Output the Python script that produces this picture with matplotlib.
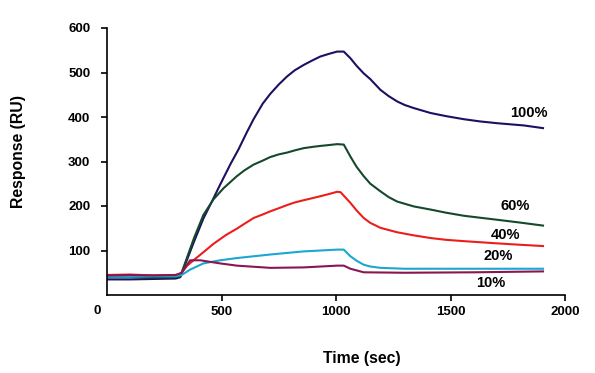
import matplotlib
matplotlib.use("Agg")
import matplotlib.pyplot as plt

plt.rcParams['font.family'] = ['Liberation Sans', 'DejaVu Sans']
plt.rcParams['font.weight'] = 'bold'

# sensorgram traces: time (sec) and response (RU)
t_100 = [0, 100, 200, 300, 320, 341, 380, 421, 460, 494, 540, 575, 610, 640, 680, 713,
         750, 786, 820, 859, 900, 932, 970, 1005, 1034,
         1063, 1090, 1121, 1150, 1194, 1230, 1267, 1300, 1340, 1413, 1480, 1559, 1630,
         1705, 1821, 1904]
r_100 = [35, 35, 36, 37, 40, 68, 120, 172, 212, 248, 295, 328, 365, 395, 430, 452,
         473, 491, 505, 517, 528, 536, 542, 547, 547,
         532, 515, 498, 485, 461, 447, 435, 427, 420, 409, 402, 395, 390,
         386, 381, 375]

t_60 = [0, 100, 200, 300, 320, 341, 380, 421, 465, 509, 567, 600, 640, 680, 713, 750,
        786, 820, 859, 900, 932, 970, 1005, 1034,
        1063, 1090, 1121, 1150, 1194, 1230, 1267, 1340, 1413, 1480, 1559, 1705, 1800, 1904]
r_60 = [40, 40, 39, 40, 42, 72, 128, 180, 215, 240, 267, 280, 293, 302, 310, 316,
        320, 325, 330, 333, 335, 337, 339, 338,
        311, 288, 267, 250, 233, 220, 210, 199, 192, 185, 178, 169, 163, 156]

t_40 = [0, 100, 200, 300, 320, 350, 392, 430, 465, 520, 567, 600, 640, 680, 713, 750, 786,
        820, 859, 900, 932, 970, 1005, 1020,
        1063, 1090, 1121, 1150, 1194, 1230, 1267, 1340, 1413, 1480, 1559, 1705, 1800, 1904]
r_40 = [45, 46, 44, 45, 46, 66, 84, 100, 115, 135, 149, 160, 173, 181, 188, 195, 202,
        208, 213, 218, 222, 227, 232, 231,
        207, 190, 173, 162, 151, 146, 141, 134, 128, 124, 121, 116, 113, 110]

t_20 = [0, 100, 200, 300, 326, 363, 421, 494, 567, 713, 859, 1005, 1034,
        1063, 1090, 1121, 1150, 1194, 1300, 1600, 1904]
r_20 = [41, 41, 42, 42, 45, 57, 71, 78, 83, 91, 98, 102, 102,
        87, 77, 68, 64, 61, 59, 59, 59]

t_10 = [0, 100, 200, 300, 326, 363, 407, 494, 567, 713, 859, 1005, 1034,
        1063, 1121, 1300, 1600, 1904]
r_10 = [44, 45, 44, 45, 50, 78, 78, 71, 66, 61, 62, 66, 66,
        59, 51, 50, 51, 53]

labels = ['100%', '60%', '40%', '20%', '10%']
label_t = [1842, 1783, 1738, 1707, 1674]
label_r = [410, 200, 135, 88, 26]

colors = ['#1c1160', '#16482c', '#ec1e1c', '#1ba7d2', '#8a1651']

fig = plt.figure(figsize=(5.95, 3.73), dpi=100)
ax = fig.add_axes([107/595, 1 - 295/373, 458/595, 267/373])

series = [(t_100, r_100), (t_60, r_60), (t_40, r_40), (t_20, r_20), (t_10, r_10)]
for (t, r), c in zip(series, colors):
    ax.plot(t, r, color=c, lw=1.5, solid_joinstyle='round')

for lab, x, y in zip(labels, label_t, label_r):
    ax.text(x, y, lab, ha='center', va='center', fontsize=10.5, fontweight='bold')

ax.set_xlim(0, 2000)
ax.set_ylim(0, 600)
ax.set_xticks([500, 1000, 1500, 2000])
ax.set_yticks([100, 200, 300, 400, 500, 600])
ax.tick_params(axis='both', direction='out', length=4.5, width=1.2, labelsize=9.5, color='black')
ax.tick_params(axis='x', pad=3.5)
ax.tick_params(axis='y', pad=7.5)
for lab in ax.get_xticklabels() + ax.get_yticklabels():
    lab.set_fontweight('bold')
ax.text(-0.0225, -0.061, '0', transform=ax.transAxes, ha='center', va='center',
        fontsize=9.5, fontweight='bold')

ax.spines['top'].set_visible(False)
ax.spines['right'].set_visible(False)
ax.spines['left'].set_linewidth(1.2)
ax.spines['bottom'].set_linewidth(1.2)

ax.set_xlabel('Time (sec)', fontsize=11.3, fontweight='bold')
ax.set_ylabel('Response (RU)', fontsize=11.3, fontweight='bold')
ax.xaxis.set_label_coords(0.557, -0.208)
ax.yaxis.set_label_coords(-0.177, 0.537)

fig.savefig('out.png', dpi=100)
